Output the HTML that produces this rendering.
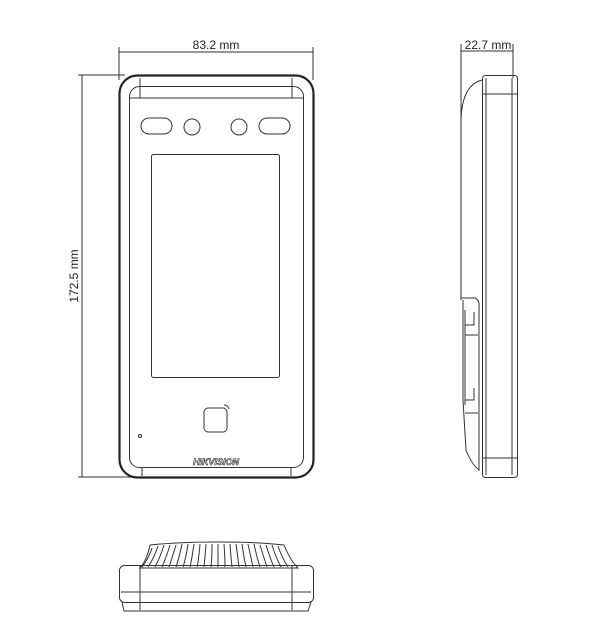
<!DOCTYPE html>
<html><head><style>body{margin:0;background:#fff}svg{display:block}</style></head><body>
<svg width="608" height="641" viewBox="0 0 608 641" xmlns="http://www.w3.org/2000/svg" font-family="Liberation Sans, sans-serif">
<g fill="none" stroke="#333" stroke-width="1">
<!-- top dimension -->
<line x1="119" y1="52" x2="313" y2="52"/>
<line x1="119" y1="47" x2="119" y2="80"/>
<line x1="313" y1="47" x2="313" y2="80"/>
<!-- vertical dimension -->
<line x1="82" y1="75" x2="82" y2="477"/>
<line x1="78" y1="75" x2="125" y2="75"/>
<line x1="78" y1="477" x2="135" y2="477"/>
<!-- front body -->
<rect x="119.5" y="75.5" width="194" height="402" rx="18" stroke="#222" stroke-width="2.2"/>
<rect x="129.5" y="86.5" width="174" height="381" rx="10"/>
<line x1="140" y1="78" x2="140" y2="98"/><line x1="292" y1="78" x2="292" y2="98"/>
<line x1="130" y1="98" x2="303" y2="98"/>
<line x1="142" y1="468" x2="142" y2="476"/><line x1="291" y1="468" x2="291" y2="476"/>
<rect x="141" y="118" width="31" height="16" rx="8"/>
<circle cx="192" cy="127" r="8"/>
<circle cx="239" cy="127" r="8"/>
<rect x="259" y="118" width="31" height="16" rx="8"/>
<rect x="151.5" y="154.5" width="128" height="223" rx="2"/>
<rect x="204" y="408" width="23" height="24" rx="4"/>
<path d="M224 405 q4 0 5 4"/>
<circle cx="140" cy="436" r="1.5"/>
<!-- side view -->
<line x1="461" y1="51" x2="513" y2="51"/>
<line x1="461" y1="44" x2="461" y2="300"/>
<line x1="513" y1="44" x2="513" y2="78"/>
<rect x="482.5" y="75.5" width="35" height="402" rx="3"/>
<line x1="483" y1="94" x2="518" y2="94"/><line x1="483" y1="458" x2="518" y2="458"/>
<line x1="486" y1="78" x2="486" y2="475"/><line x1="512" y1="78" x2="512" y2="475"/>
<path d="M482 80 Q462 85 461 120 L461 298 L475 298 Q480 300 479 308 L479 470 Q472 465 466 450 L463 400 L463 300"/>
<path d="M465 310 L465 325 L474 325 L474 312 M465 325 L465 405 M465 335 L478 335 M465 390 L465 400 L474 400 L474 388 M465 413 L478 413"/>
<!-- bottom view -->
<path d="M150 545 Q180 542 217 542 Q260 542 284 545 Q290 560 298 568 L140 568 Q147 560 150 545 Z"/>
<rect x="119.5" y="565.5" width="194" height="37" rx="5"/>
<path d="M122 602 L124 611 L308 611 L311 602"/>
<line x1="121" y1="592" x2="311" y2="592"/>
<line x1="140" y1="566" x2="140" y2="610"/><line x1="292" y1="566" x2="292" y2="610"/>
</g>
<g stroke="#333" stroke-width="1" fill="none">
<path d="M152 548 Q148 560 142 567 M158 546 Q154 558 148 567 M164 545 Q160 558 155 567 M170 545 Q166 558 162 567 M176 545 Q172 558 169 567 M182 544 Q179 558 176 567 M188 544 Q186 558 183 567 M194 544 Q192 558 190 567 M200 544 Q199 558 197 567 M206 544 Q205 558 204 567 M212 544 Q212 558 211 567 M218 544 Q218 558 218 567 M224 544 Q225 558 225 567 M230 544 Q231 558 232 567 M236 544 Q238 558 239 567 M242 544 Q244 558 246 567 M248 544 Q251 558 253 567 M254 544 Q257 558 260 567 M260 545 Q264 558 267 567 M266 545 Q270 558 274 567 M272 545 Q276 558 281 567 M278 546 Q282 558 288 567"/>
</g>
<g fill="#222" font-size="12">
<text x="216" y="49" text-anchor="middle">83.2 mm</text>
<text x="488" y="49" text-anchor="middle">22.7 mm</text>
<text transform="translate(78,276) rotate(-90)" text-anchor="middle">172.5 mm</text>
<text x="216" y="465" text-anchor="middle" font-size="9" font-weight="bold" font-style="italic" fill="none" stroke="#222" stroke-width="0.6">HIKVISION</text>
</g>
</svg>
</body></html>
